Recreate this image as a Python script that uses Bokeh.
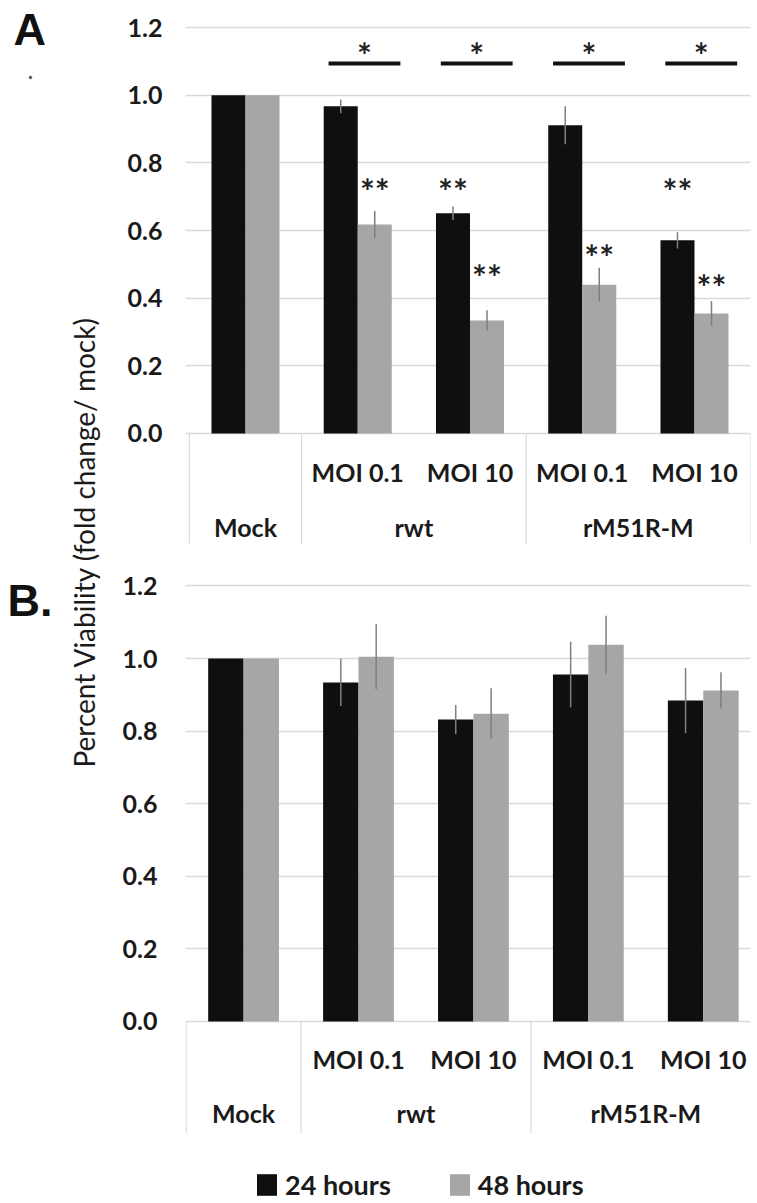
import math
from bokeh.plotting import figure
from bokeh.models import Range1d, FixedTicker, Legend, LegendItem, PrintfTickFormatter
from bokeh.layouts import row, column
from bokeh.embed import file_html
from bokeh.resources import INLINE
from bokeh.core.properties import value

# ---------------- data ----------------
groups = ["Mock", "rwt", "rwt", "rM51R-M", "rM51R-M"]
moi_labels = ["", "MOI 0.1", "MOI 10", "MOI 0.1", "MOI 10"]
series_names = ["24 hours", "48 hours"]
y_ticks = [0.0, 0.2, 0.4, 0.6, 0.8, 1.0, 1.2]

# Panel A
a_24 = [1.00, 0.967, 0.651, 0.911, 0.571]
a_24_err = [0.0, 0.02, 0.02, 0.056, 0.024]
a_48 = [1.00, 0.618, 0.334, 0.440, 0.355]
a_48_err = [0.0, 0.04, 0.03, 0.05, 0.037]

# Panel B
b_24 = [1.00, 0.934, 0.832, 0.956, 0.884]
b_24_err = [0.0, 0.065, 0.04, 0.09, 0.09]
b_48 = [1.00, 1.005, 0.848, 1.038, 0.912]
b_48_err = [0.0, 0.09, 0.07, 0.08, 0.05]

# significance annotations (panel A)
bracket_slots = [1, 2, 3, 4]
bracket_level = 1.094
bracket_star_level = 1.147
star_slots = [1, 2, 2, 3, 4, 4]
star_series = [1, 0, 1, 1, 0, 1]
star_levels = [0.742, 0.742, 0.49, 0.547, 0.742, 0.461]

# ---------------- style ----------------
BLACK = "#0f0f0f"
GRAY = "#a6a6a6"
GRID = "#d9d9d9"
ERR = "#7f7f7f"
FONT = "Lato"

n = len(groups)
slots = list(range(n))


def make_panel(v24, e24, v48, e48, width, height, mbl, mbr, mbt, mbb, xr, yr,
               bar_w, standoff, row1_y, row2_y, sep_bottom):
    p = figure(width=width, height=height, x_range=Range1d(*xr), y_range=Range1d(*yr),
               x_axis_location=None, toolbar_location=None, output_backend="svg",
               min_border_left=mbl, min_border_right=mbr, min_border_top=mbt,
               min_border_bottom=mbb, outline_line_color=None,
               background_fill_color="white", border_fill_color="white")
    p.xgrid.visible = False
    p.ygrid.ticker = FixedTicker(ticks=y_ticks)
    p.ygrid.grid_line_color = GRID
    p.ygrid.grid_line_width = 1.5
    ax = p.yaxis[0]
    ax.ticker = FixedTicker(ticks=y_ticks)
    ax.formatter = PrintfTickFormatter(format="%.1f")
    ax.axis_line_color = None
    ax.major_tick_line_color = None
    ax.minor_tick_line_color = None
    ax.major_tick_out = 0
    ax.major_tick_in = 0
    ax.major_label_standoff = standoff
    ax.major_label_text_font = FONT
    ax.major_label_text_font_style = "bold"
    ax.major_label_text_font_size = "25px"
    ax.major_label_text_color = "#1a1a1a"

    off = bar_w / 2
    x24 = [s - off for s in slots]
    x48 = [s + off for s in slots]
    r24 = p.vbar(x=x24, top=v24, bottom=0, width=bar_w, fill_color=BLACK, line_color=None)
    r48 = p.vbar(x=x48, top=v48, bottom=0, width=bar_w, fill_color=GRAY, line_color=None)
    p.segment(x0=x24, x1=x24, y0=[v - e for v, e in zip(v24, e24)],
              y1=[v + e for v, e in zip(v24, e24)], line_color=ERR, line_width=1.5)
    p.segment(x0=x48, x1=x48, y0=[v - e for v, e in zip(v48, e48)],
              y1=[v + e for v, e in zip(v48, e48)], line_color=ERR, line_width=1.5)

    # category label box
    bounds = [-0.5] + [i + 0.5 for i in range(n - 1) if groups[i] != groups[i + 1]] + [n - 0.5]
    p.segment(x0=bounds, x1=bounds, y0=[0] * len(bounds), y1=[sep_bottom] * len(bounds),
              line_color=GRID, line_width=1.2)
    p.text(x=slots, y=[row1_y] * n, text=moi_labels, text_align="center",
           text_baseline="middle", text_font=value(FONT), text_font_style="bold",
           text_font_size="25px", text_color="#1a1a1a")
    uniq = []
    for g in groups:
        if g not in uniq:
            uniq.append(g)
    gx = [sum(i for i in slots if groups[i] == g) / groups.count(g) for g in uniq]
    p.text(x=gx, y=[row2_y] * len(uniq), text=uniq, text_align="center",
           text_baseline="middle", text_font=value(FONT), text_font_style="bold",
           text_font_size="25px", text_color="#1a1a1a")
    return p, r24, r48, off


# ---------------- panel A ----------------
pa, _, _, offa = make_panel(a_24, a_24_err, a_48, a_48_err, width=649, height=560,
                            mbl=77, mbr=7, mbt=20, mbb=15, xr=(-0.5345, 4.499),
                            yr=(-0.3311, 1.2208), bar_w=0.303, standoff=23,
                            row1_y=-0.115, row2_y=-0.275, sep_bottom=-0.325)
hw = 0.32
bc = [s + 0.06 for s in bracket_slots]
pa.segment(x0=[c - hw for c in bc], x1=[c + hw for c in bc], y0=[bracket_level] * len(bc),
           y1=[bracket_level] * len(bc), line_color="#111111", line_width=4)
pa.text(x=bc, y=[bracket_star_level] * len(bc), text=["*"] * len(bc), text_align="center",
        text_baseline="middle", text_font=value(FONT), text_font_style="bold",
        text_font_size="35px", text_color="#222222", y_offset=9)
sx = [s + (offa if ser == 1 else -offa) for s, ser in zip(star_slots, star_series)]
pa.text(x=sx, y=star_levels, text=["**"] * len(sx), text_align="center",
        text_baseline="middle", text_font=value(FONT), text_font_style="bold",
        text_font_size="35px", text_color="#222222", y_offset=8)

# ---------------- panel B ----------------
pb, rb24, rb48, _ = make_panel(b_24, b_24_err, b_48, b_48_err, width=649, height=643,
                               mbl=75, mbr=0, mbt=18, mbb=0, xr=(-0.5054, 4.411),
                               yr=(-0.5014, 1.2204), bar_w=0.308, standoff=28,
                               row1_y=-0.102, row2_y=-0.253, sep_bottom=-0.308)
legend = Legend(items=[LegendItem(label=series_names[0], renderers=[rb24]),
                       LegendItem(label=series_names[1], renderers=[rb48])],
                orientation="horizontal", location=(69, 2), glyph_width=25, glyph_height=27,
                label_standoff=6, spacing=56, padding=0, margin=0, border_line_color=None,
                background_fill_alpha=0, label_text_font=FONT, label_text_font_style="bold",
                label_text_font_size="27px", label_text_color="#1a1a1a")
pb.add_layout(legend)

# ---------------- left strip: panel letters and shared y label ----------------
left = figure(width=108, height=1203, x_range=Range1d(0, 108), y_range=Range1d(1203, 0),
              x_axis_location=None, y_axis_location=None, toolbar_location=None,
              output_backend="svg", min_border=0, outline_line_color=None)
left.grid.visible = False
left.text(x=[13, 7], y=[29, 600], text=["A", "B."], text_align="left",
          text_baseline="middle", text_font=value("Liberation Sans"),
          text_font_style="bold", text_font_size="45px", text_color="#111111")
left.scatter(x=[30], y=[77], size=2.5, color="#555555")
left.text(x=[83], y=[541.5], text=["Percent Viability (fold change/ mock)"], angle=math.pi / 2,
          text_align="center", text_baseline="middle", text_font=value(FONT),
          text_font_size="28px", text_color="#1a1a1a")

layout = row(left, column(pa, pb, spacing=0), spacing=0)
open("out.html", "w").write(file_html(layout, INLINE))
